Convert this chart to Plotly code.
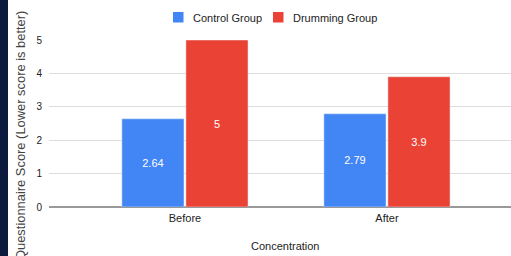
import plotly.graph_objects as go

categories = ["Before", "After"]
control = [2.64, 2.79]
drumming = [5, 3.9]
y_ticks = [0, 1, 2, 3, 4, 5]
series_names = ["Control Group", "Drumming Group"]
series_colors = ["#4285F4", "#EA4335"]

W, H = 511, 256
L, R, T, B = 49, 0, 40, 49
pw, ph = W - L - R, H - T - B

font = "Liberation Sans, Arial, sans-serif"


def px_x(x):
    return (x - L) / pw


def px_y(y):
    return 1 - (y - T) / ph


fig = go.Figure()
for name, vals, col in zip(series_names, [control, drumming], series_colors):
    fig.add_trace(go.Bar(name=name, x=categories, y=vals, marker_color=col,
                         text=[str(v) for v in vals], textposition="inside",
                         insidetextanchor="middle",
                         textfont=dict(color="white", size=11, family=font)))

# manual legend (Google-Sheets style: small square + tight text)
legend_pos = [(173, 191), (273, 291)]
shapes = [dict(type="rect", xref="paper", yref="paper", x0=-L / pw, x1=px_x(8),
               y0=-B / ph, y1=1 + T / ph, fillcolor="#0c1b3d", line_width=0, layer="above")]
annotations = [
    dict(text="Questionnaire Score (Lower score is better)", xref="paper", yref="paper",
         x=px_x(20), y=px_y(136), xanchor="center", yanchor="middle",
         textangle=-90, showarrow=False, font=dict(size=12.9, color="#444444", family=font)),
    dict(text="Concentration", xref="paper", yref="paper",
         x=px_x(285), y=px_y(246), xanchor="center", yanchor="middle",
         showarrow=False, font=dict(size=11, color="#222222", family=font)),
]
for (sx, tx), name, col in zip(legend_pos, series_names, series_colors):
    shapes.append(dict(type="rect", xref="paper", yref="paper", x0=px_x(sx), x1=px_x(sx + 10.5),
                       y0=px_y(22.5), y1=px_y(12), fillcolor=col, line_width=0))
    annotations.append(dict(text=name, xref="paper", yref="paper", x=px_x(tx), y=px_y(17.5),
                            xanchor="left", yanchor="middle", showarrow=False,
                            font=dict(size=11, color="#222222", family=font)))

fig.update_layout(
    width=W, height=H, margin=dict(l=L, r=R, t=T, b=B, autoexpand=False),
    paper_bgcolor="white", plot_bgcolor="white",
    barmode="group", bargap=0.366, bargroupgap=0.03,
    font=dict(family=font, color="#222222", size=11),
    showlegend=False,
    xaxis=dict(range=[-0.673, 1.614], showgrid=False, showline=False, ticks="",
               tickfont=dict(size=11, color="#222222"), automargin=False,
               ticklabelstandoff=3),
    yaxis=dict(range=[0, 5], tickvals=y_ticks, showgrid=True, gridcolor="#dddddd", gridwidth=1,
               zeroline=True, zerolinecolor="#999999", zerolinewidth=2, showline=False,
               ticks="", tickfont=dict(size=10, color="#222222"), ticklabelstandoff=6,
               automargin=False),
    shapes=shapes,
    annotations=annotations,
)

fig.write_html("out.html", config={"displayModeBar": False},
               post_script="document.body.style.margin='0';document.body.style.overflow='hidden';")
